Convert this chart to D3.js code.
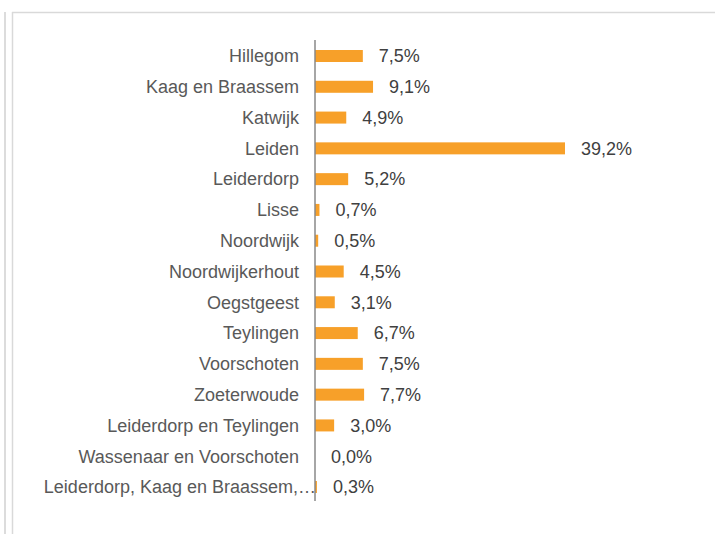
<!DOCTYPE html>
<html>
<head>
<meta charset="utf-8">
<script src="https://cdn.jsdelivr.net/npm/d3@7"></script>
<style>
  body { margin: 0; background: #fff; }
  svg { display: block; font-family: "Liberation Sans", Arial, sans-serif; }
</style>
</head>
<body>
<svg id="chart"></svg>
<script>
// categories and values (percent)
const gemeenten = [
  "Hillegom", "Kaag en Braassem", "Katwijk", "Leiden", "Leiderdorp", "Lisse",
  "Noordwijk", "Noordwijkerhout", "Oegstgeest", "Teylingen", "Voorschoten",
  "Zoeterwoude", "Leiderdorp en Teylingen", "Wassenaar en Voorschoten",
  "Leiderdorp, Kaag en Braassem,…"
];
const percentages = [7.5, 9.1, 4.9, 39.2, 5.2, 0.7, 0.5, 4.5, 3.1, 6.7, 7.5, 7.7, 3.0, 0.0, 0.3];

const width = 715, height = 534;

const svg = d3.select("#chart")
    .attr("width", width)
    .attr("height", height);

// frame lines around the chart area
svg.append("line")
    .attr("x1", 5).attr("x2", 5).attr("y1", 12).attr("y2", height)
    .attr("stroke", "#dcdcdc").attr("stroke-width", 2);
svg.append("line")
    .attr("x1", 12.5).attr("x2", 12.5).attr("y1", 12).attr("y2", height)
    .attr("stroke", "#d9d9d9").attr("stroke-width", 1.5);
svg.append("line")
    .attr("x1", 12).attr("x2", width).attr("y1", 12.5).attr("y2", 12.5)
    .attr("stroke", "#d9d9d9").attr("stroke-width", 1.5);

const x = d3.scaleLinear()
    .domain([0, 39.2])
    .range([315, 565]);

const y = d3.scalePoint()
    .domain(gemeenten)
    .range([56, 487]);

const barH = 12;

// bars
svg.append("g")
    .selectAll("rect")
    .data(percentages)
    .enter().append("rect")
    .attr("x", x(0))
    .attr("y", (d, i) => y(gemeenten[i]) - barH / 2)
    .attr("width", d => x(d) - x(0))
    .attr("height", barH)
    .attr("fill", "#f7a029");

// vertical axis line
svg.append("line")
    .attr("x1", x(0)).attr("x2", x(0))
    .attr("y1", 40).attr("y2", 501)
    .attr("stroke", "#888").attr("stroke-width", 1.5);

// category labels (the truncated one runs up to the axis)
svg.append("g")
    .selectAll("text")
    .data(gemeenten)
    .enter().append("text")
    .attr("x", d => d.endsWith("…") ? x(0) + 1 : x(0) - 16)
    .attr("y", d => y(d))
    .attr("dy", "0.35em")
    .attr("text-anchor", "end")
    .attr("fill", "#595959")
    .style("font-size", "18px")
    .text(d => d);

// value labels
svg.append("g")
    .selectAll("text")
    .data(percentages)
    .enter().append("text")
    .attr("x", d => x(d) + 16)
    .attr("y", (d, i) => y(gemeenten[i]))
    .attr("dy", "0.35em")
    .attr("fill", "#404040")
    .style("font-size", "18px")
    .text(d => d.toFixed(1).replace(".", ",") + "%");
</script>
</body>
</html>
